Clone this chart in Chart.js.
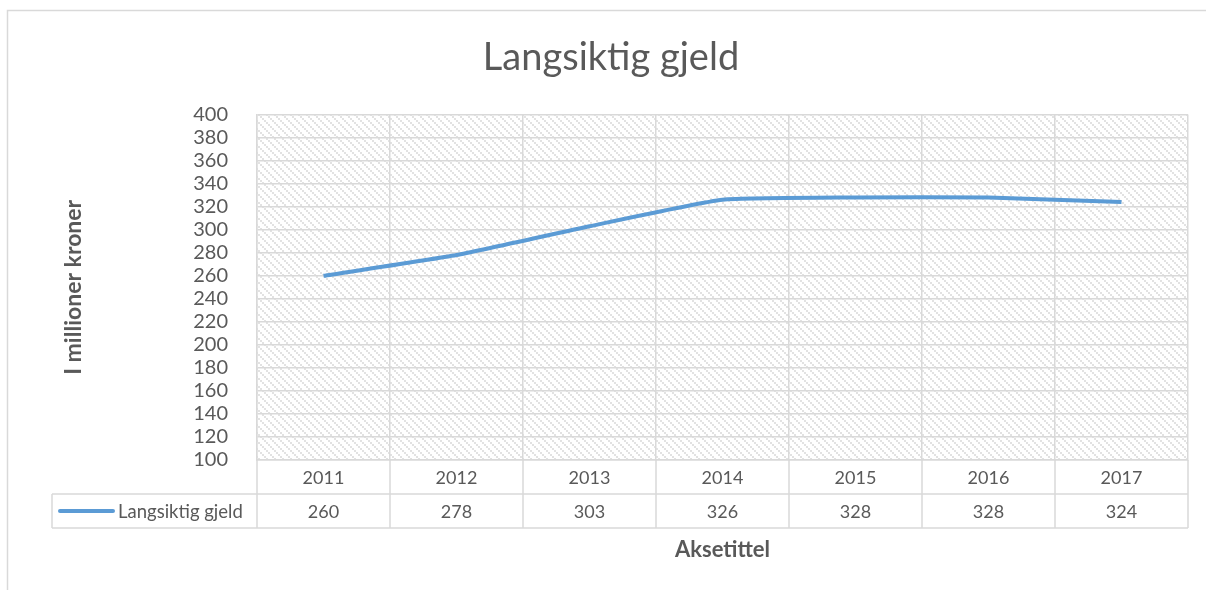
<!DOCTYPE html>
<html>
<head>
<meta charset="utf-8">
<script src="https://cdn.jsdelivr.net/npm/chart.js@4/dist/chart.umd.min.js"></script>
<style>
    html, body { margin: 0; padding: 0; background: #ffffff; }
    #wrap { position: relative; width: 1206px; height: 590px; }
</style>
</head>
<body>
<div id="wrap"><canvas id="chart" width="1206" height="590"></canvas></div>
<script>
const years = ["2011", "2012", "2013", "2014", "2015", "2016", "2017"];
const gjeld = [260, 278, 303, 326, 328, 328, 324];
const seriesName = "Langsiktig gjeld";
const yMin = 100;
const yMax = 400;
const yStep = 20;

const textColor = "#595959";
const gridColor = "#d9d9d9";
const lineColor = "#5b9bd5";
const fontFamily = "Lato, 'Open Sans', sans-serif";

function makeHatch() {
    const tile = document.createElement("canvas");
    tile.width = 8;
    tile.height = 8;
    const t = tile.getContext("2d");
    t.fillStyle = "#ffffff";
    t.fillRect(0, 0, 8, 8);
    t.fillStyle = "#e2e2e2";
    for (let i = 0; i < 4; i++) {
        t.fillRect(i * 2, i * 2, 2, 2);
    }
    return t.createPattern(tile, "repeat");
}

// frame, hatched plot background and data table under the axis
const tablePlugin = {
    id: "dataTable",
    beforeDraw(chart) {
        const ctx = chart.ctx;
        const a = chart.chartArea;
        ctx.save();
        ctx.strokeStyle = "#d9d9d9";
        ctx.lineWidth = 1.5;
        ctx.strokeRect(7.5, 10.5, 1300, 700);
        ctx.fillStyle = makeHatch();
        ctx.fillRect(a.left, a.top, a.right - a.left, a.bottom - a.top);
        ctx.restore();
    },
    afterDraw(chart) {
        const ctx = chart.ctx;
        const a = chart.chartArea;
        const x = chart.scales.x;
        const rowH = 34;
        const headTop = a.bottom;
        const dataTop = headTop + rowH;
        const dataBottom = dataTop + rowH;
        const legendLeft = 52;
        const colW = (a.right - a.left) / years.length;

        ctx.save();
        ctx.strokeStyle = gridColor;
        ctx.lineWidth = 1.5;
        ctx.beginPath();
        ctx.moveTo(a.left, dataTop);
        ctx.lineTo(a.left, dataBottom);
        for (let i = 0; i <= years.length; i++) {
            const gx = a.left + i * colW;
            ctx.moveTo(gx, headTop);
            ctx.lineTo(gx, dataBottom);
        }
        ctx.moveTo(legendLeft, dataTop);
        ctx.lineTo(legendLeft, dataBottom);
        ctx.moveTo(legendLeft, dataTop);
        ctx.lineTo(a.right, dataTop);
        ctx.moveTo(legendLeft, dataBottom);
        ctx.lineTo(a.right, dataBottom);
        ctx.stroke();

        ctx.fillStyle = textColor;
        ctx.font = "18px " + fontFamily;
        ctx.textAlign = "center";
        ctx.textBaseline = "middle";
        years.forEach(function (y, i) {
            const cx = x.getPixelForValue(i);
            ctx.fillText(y, cx, headTop + rowH / 2 + 1);
            ctx.fillText(String(gjeld[i]), cx, dataTop + rowH / 2 + 1);
        });

        ctx.strokeStyle = lineColor;
        ctx.lineWidth = 4;
        ctx.lineCap = "round";
        ctx.beginPath();
        ctx.moveTo(60, dataTop + rowH / 2);
        ctx.lineTo(113, dataTop + rowH / 2);
        ctx.stroke();
        ctx.textAlign = "left";
        ctx.font = "18.5px " + fontFamily;
        ctx.fillText(seriesName, 118, dataTop + rowH / 2 + 1);
        ctx.restore();
    }
};

const ctx = document.getElementById("chart").getContext("2d");
new Chart(ctx, {
    type: "line",
    data: {
        labels: years,
        datasets: [{
            label: seriesName,
            data: gjeld,
            borderColor: lineColor,
            backgroundColor: lineColor,
            borderWidth: 4,
            pointRadius: 0,
            tension: 0.15,
            fill: false
        }]
    },
    options: {
        responsive: false,
        animation: false,
        layout: {
            padding: { left: 34, right: 18, top: 0, bottom: 0 }
        },
        plugins: {
            legend: { display: false },
            tooltip: { enabled: false },
            title: {
                display: true,
                text: "Langsiktig gjeld",
                color: textColor,
                font: { family: fontFamily, size: 38, weight: "normal", lineHeight: 1.2 },
                padding: { top: 35, bottom: 34 }
            }
        },
        scales: {
            x: {
                type: "category",
                offset: true,
                grid: { color: gridColor, lineWidth: 1.5, offset: true, drawTicks: false },
                border: { display: true, color: gridColor, width: 1.5 },
                ticks: { display: false },
                title: {
                    display: true,
                    text: "Aksetittel",
                    color: textColor,
                    font: { family: fontFamily, size: 22, weight: "bold", lineHeight: 1.2 },
                    padding: { top: 0, bottom: 27 }
                },
                afterFit: function (scale) { scale.height = 130; }
            },
            y: {
                min: yMin,
                max: yMax,
                grid: { color: gridColor, lineWidth: 1.5, drawTicks: false },
                border: { display: true, color: gridColor, width: 1.5 },
                ticks: {
                    stepSize: yStep,
                    autoSkip: false,
                    color: textColor,
                    padding: 29,
                    font: { family: fontFamily, size: 20, lineHeight: 1 }
                },
                title: {
                    display: true,
                    text: "I millioner kroner",
                    color: textColor,
                    font: { family: fontFamily, size: 23, weight: "bold", lineHeight: 1.2 },
                    padding: { top: 26, bottom: 0 }
                },
                afterFit: function (scale) { scale.width = 223; }
            }
        }
    },
    plugins: [tablePlugin]
});
</script>
</body>
</html>
